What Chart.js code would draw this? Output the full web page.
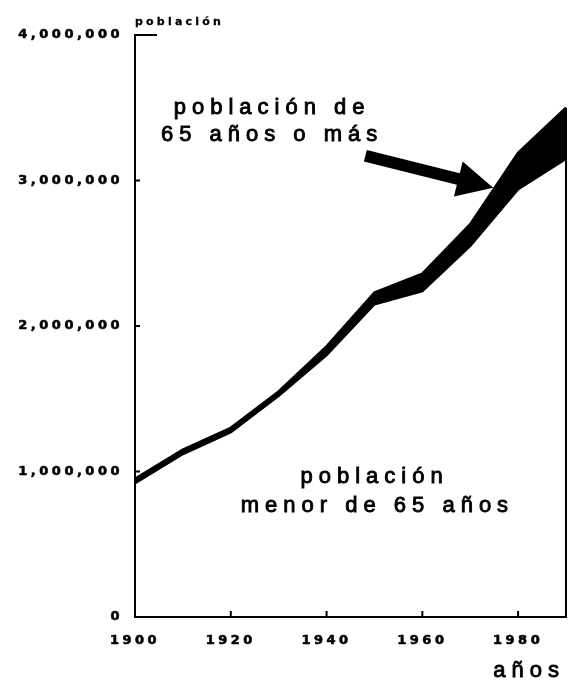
<!DOCTYPE html>
<html>
<head>
<meta charset="utf-8">
<script src="https://cdn.jsdelivr.net/npm/chart.js@4"></script>
<style>
  html, body { margin: 0; padding: 0; background: #fff; }
  #wrap { width: 569px; height: 683px; }
</style>
</head>
<body>
<div id="wrap"><canvas id="chart"></canvas></div>
<script>
// values
const years = [1900, 1910, 1920, 1930, 1940, 1950, 1960, 1970, 1980, 1990];
const under65 = [920000, 1120000, 1270000, 1520000, 1800000, 2150000, 2240000, 2550000, 2940000, 3150000];
const total = [950000, 1150000, 1300000, 1550000, 1860000, 2230000, 2360000, 2700000, 3190000, 3500000];
const yTicks = [0, 1000000, 2000000, 3000000, 4000000];
const xTicks = [1900, 1920, 1940, 1960, 1980];

function spacedText(ctx, text, x, y, font, spacing, align, stroke) {
  ctx.save();
  ctx.font = font;
  ctx.letterSpacing = spacing + 'px';
  ctx.fillStyle = '#000';
  ctx.strokeStyle = '#000';
  ctx.textBaseline = 'alphabetic';
  let w = ctx.measureText(text).width - spacing;
  let sx = x;
  if (align === 'center') sx = x - w / 2;
  if (align === 'right') sx = x - w;
  ctx.textAlign = 'left';
  ctx.fillText(text, sx, y);
  if (stroke) {
    ctx.lineWidth = stroke;
    ctx.strokeText(text, sx, y);
  }
  ctx.restore();
}

const decor = {
  id: 'decor',
  beforeDraw(chart) {
    chart.ctx.letterSpacing = '3.5px';
  },
  afterDraw(chart) {
    const ctx = chart.ctx;
    const xs = chart.scales.x, ys = chart.scales.y;
    const a = chart.chartArea;
    ctx.save();
    ctx.letterSpacing = '0px';
    ctx.strokeStyle = '#000';
    ctx.lineWidth = 2;
    // little inside ticks
    ctx.beginPath();
    yTicks.forEach(v => {
      const py = ys.getPixelForValue(v);
      ctx.moveTo(a.left, py); ctx.lineTo(a.left + 5, py);
    });
    xTicks.slice(1).forEach(v => {
      const px = xs.getPixelForValue(v);
      ctx.moveTo(px, a.bottom); ctx.lineTo(px, a.bottom - 6);
    });
    // short top piece and right edge
    ctx.moveTo(a.left, a.top); ctx.lineTo(a.left + 22, a.top);
    ctx.moveTo(a.right, a.bottom); ctx.lineTo(a.right, ys.getPixelForValue(total[total.length - 1]));
    ctx.stroke();

    // arrow
    const tx = xs.getPixelForValue(1948.1), ty = ys.getPixelForValue(3170000);
    const hx = xs.getPixelForValue(1974.8), hy = ys.getPixelForValue(2950000);
    const ang = Math.atan2(hy - ty, hx - tx);
    const len = Math.hypot(hx - tx, hy - ty);
    const headLen = 36, shaft = 6, head = 18;
    ctx.translate(tx, ty);
    ctx.rotate(ang);
    ctx.fillStyle = '#000';
    ctx.beginPath();
    ctx.moveTo(0, -shaft);
    ctx.lineTo(len - headLen, -shaft);
    ctx.lineTo(len - headLen, -head);
    ctx.lineTo(len, 0);
    ctx.lineTo(len - headLen, head);
    ctx.lineTo(len - headLen, shaft);
    ctx.lineTo(0, shaft);
    ctx.closePath();
    ctx.fill();
    ctx.restore();

    const big = '22px "Liberation Sans", Arial, sans-serif';
    spacedText(ctx, 'población de', xs.getPixelForValue(1928), ys.getPixelForValue(3460000), big, 6, 'center', 0.9);
    spacedText(ctx, '65 años o más', xs.getPixelForValue(1928), ys.getPixelForValue(3270000), big, 6, 'center', 0.9);
    spacedText(ctx, 'población', xs.getPixelForValue(1949.4), ys.getPixelForValue(920000), big, 6, 'center', 0.9);
    spacedText(ctx, 'menor de 65 años', xs.getPixelForValue(1950), ys.getPixelForValue(720000), big, 6, 'center', 0.9);
    // axis titles
    spacedText(ctx, 'población', a.left, a.top - 10, 'bold 11px "DejaVu Sans", sans-serif', 3.2, 'left', 0.3);
    spacedText(ctx, 'años', a.right - 7, chart.height - 6, big, 6, 'right', 0.9);
  }
};

new Chart(document.getElementById('chart'), {
  type: 'line',
  data: {
    datasets: [{
      label: 'población menor de 65 años',
      data: years.map((x, i) => ({ x: x, y: under65[i] })),
      borderColor: '#000',
      borderWidth: 2.5,
      pointRadius: 0,
      tension: 0,
      fill: false
    }, {
      label: 'población total',
      data: years.map((x, i) => ({ x: x, y: total[i] })),
      borderColor: '#000',
      borderWidth: 2.5,
      pointRadius: 0,
      tension: 0,
      backgroundColor: '#000',
      fill: '-1'
    }]
  },
  options: {
    responsive: true,
    maintainAspectRatio: false,
    animation: false,
    layout: { padding: { left: 0, top: 35, right: 3, bottom: 36 } },
    plugins: {
      legend: { display: false },
      tooltip: { enabled: false }
    },
    scales: {
      x: {
        type: 'linear',
        min: 1900,
        max: 1990,
        grid: { display: false },
        border: { display: true, color: '#000', width: 2 },
        ticks: {
          stepSize: 20,
          includeBounds: false,
          maxRotation: 0,
          padding: 8,
          color: '#000',
          textStrokeColor: '#000',
          textStrokeWidth: 0.6,
          font: { family: '"DejaVu Sans", sans-serif', size: 13, weight: 'bold' },
          callback: v => String(v)
        },
        afterFit: s => { s.height = 30; }
      },
      y: {
        min: 0,
        max: 4000000,
        grid: { display: false },
        border: { display: true, color: '#000', width: 2 },
        ticks: {
          stepSize: 1000000,
          padding: 4,
          color: '#000',
          textStrokeColor: '#000',
          textStrokeWidth: 0.6,
          font: { family: '"DejaVu Sans", sans-serif', size: 13, weight: 'bold' },
          callback: v => v.toLocaleString('en-US')
        },
        afterFit: s => { s.width = 135; }
      }
    }
  },
  plugins: [decor]
});
</script>
</body>
</html>
